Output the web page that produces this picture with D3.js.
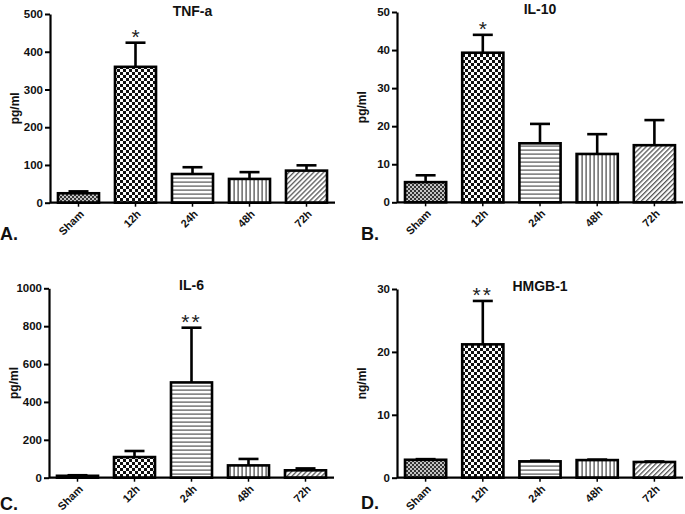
<!DOCTYPE html>
<html><head><meta charset="utf-8">
<script src="https://cdn.jsdelivr.net/npm/d3@7"></script>
<style>
html,body{margin:0;padding:0;background:#fff;}
svg text{font-family:"Liberation Sans",Arial,sans-serif;}
</style></head>
<body>
<svg id="chart" width="685" height="514"></svg>
<script>
const categories = ["Sham", "12h", "24h", "48h", "72h"];

const tnfValues = [25, 360, 76, 63, 85];
const tnfErrors = [30, 424, 94, 81, 99];
const tnfTicks = [0, 100, 200, 300, 400, 500];

const il10Values = [5.3, 39.3, 15.5, 12.7, 15.0];
const il10Errors = [7.1, 44.0, 20.6, 17.9, 21.6];
const il10Ticks = [0, 10, 20, 30, 40, 50];

const il6Values = [10, 109, 503, 65, 39];
const il6Errors = [13, 141, 792, 99, 49];
const il6Ticks = [0, 200, 400, 600, 800, 1000];

const hmgbValues = [2.85, 21.2, 2.6, 2.8, 2.5];
const hmgbErrors = [2.95, 28.1, 2.7, 2.88, 2.58];
const hmgbTicks = [0, 10, 20, 30];

const panels = [
  {letter:"A.", title:"TNF-a", unit:"pg/ml", values:tnfValues, errors:tnfErrors, ticks:tnfTicks, star:{idx:1, text:"*"},
   left:50, right:335, top:14, bottom:202.7, letterPos:[0,240]},
  {letter:"B.", title:"IL-10", unit:"pg/ml", values:il10Values, errors:il10Errors, ticks:il10Ticks, star:{idx:1, text:"*"},
   left:397, right:683, top:12, bottom:202.3, letterPos:[361,240]},
  {letter:"C.", title:"IL-6", unit:"pg/ml", values:il6Values, errors:il6Errors, ticks:il6Ticks, star:{idx:2, text:"**"},
   left:49, right:334, top:288.3, bottom:477.7, letterPos:[0,510]},
  {letter:"D.", title:"HMGB-1", unit:"ng/ml", values:hmgbValues, errors:hmgbErrors, ticks:hmgbTicks, star:{idx:1, text:"**"},
   left:397, right:683, top:289, bottom:477.7, letterPos:[361,509]}
];

const svg = d3.select("#chart");
const defs = svg.append("defs");

function pat(id, w, h){ return defs.append("pattern").attr("id", id).attr("patternUnits","userSpaceOnUse").attr("width", w).attr("height", h); }
let p = pat("p0", 4, 4);
p.append("rect").attr("width",4).attr("height",4).attr("fill","#fff");
p.append("rect").attr("width",2).attr("height",2).attr("fill","#222");
p.append("rect").attr("x",2).attr("y",2).attr("width",2).attr("height",2).attr("fill","#222");
p.append("rect").attr("width",4).attr("height",4).attr("fill","#555").attr("opacity",0.35);

p = pat("p1", 6, 6);
p.append("rect").attr("width",6).attr("height",6).attr("fill","#fff");
p.append("rect").attr("width",3).attr("height",3).attr("fill","#111");
p.append("rect").attr("x",3).attr("y",3).attr("width",3).attr("height",3).attr("fill","#111");

p = pat("p2", 4, 4);
p.append("rect").attr("width",4).attr("height",4).attr("fill","#fff");
p.append("rect").attr("y",1.5).attr("width",4).attr("height",1.2).attr("fill","#555");

p = pat("p3", 4, 4);
p.append("rect").attr("width",4).attr("height",4).attr("fill","#fff");
p.append("rect").attr("x",1.5).attr("width",1.2).attr("height",4).attr("fill","#444");

p = pat("p4", 3.5, 3.5).attr("patternTransform","rotate(45)");
p.append("rect").attr("width",3.5).attr("height",3.5).attr("fill","#fff");
p.append("rect").attr("width",1.3).attr("height",3.5).attr("fill","#555");

const fills = ["url(#p0)","url(#p1)","url(#p2)","url(#p3)","url(#p4)"];

panels.forEach(cfg => {
  const g = svg.append("g");
  const x = d3.scaleBand().domain(categories).range([cfg.left, cfg.right]).paddingInner(0.28).paddingOuter(0.14);
  const y = d3.scaleLinear().domain([0, d3.max(cfg.ticks)]).range([cfg.bottom, cfg.top]);

  g.selectAll("rect.bar").data(categories).enter().append("rect")
    .attr("class","bar")
    .attr("x", d => x(d))
    .attr("width", x.bandwidth())
    .attr("y", (d,i) => y(cfg.values[i]))
    .attr("height", (d,i) => y(0) - y(cfg.values[i]))
    .attr("fill", (d,i) => fills[i])
    .attr("stroke", "#000").attr("stroke-width", 2.6);

  const eg = g.selectAll("g.err").data(categories).enter().append("g").attr("class","err");
  eg.append("line")
    .attr("x1", d => x(d) + x.bandwidth()/2).attr("x2", d => x(d) + x.bandwidth()/2)
    .attr("y1", (d,i) => y(cfg.values[i])).attr("y2", (d,i) => y(cfg.errors[i]))
    .attr("stroke","#000").attr("stroke-width",2.6);
  eg.append("line")
    .attr("x1", d => x(d) + x.bandwidth()/2 - 10).attr("x2", d => x(d) + x.bandwidth()/2 + 10)
    .attr("y1", (d,i) => y(cfg.errors[i])).attr("y2", (d,i) => y(cfg.errors[i]))
    .attr("stroke","#000").attr("stroke-width",2.6);

  const ya = g.append("g").attr("transform", `translate(${cfg.left},0)`)
    .call(d3.axisLeft(y).tickValues(cfg.ticks).tickFormat(d3.format("d")).tickSize(5).tickSizeOuter(0).tickPadding(2));
  ya.select(".domain").attr("stroke","#000").attr("stroke-width",2.2);
  ya.selectAll(".tick line").attr("stroke","#000").attr("stroke-width",2);
  ya.selectAll(".tick text").attr("font-size", 11.5).attr("font-weight","bold").attr("fill","#111")
    .attr("font-family",'"Liberation Sans",Arial,sans-serif');

  const xa = g.append("g").attr("transform", `translate(0,${cfg.bottom})`)
    .call(d3.axisBottom(x).tickSize(4).tickSizeOuter(0));
  xa.select(".domain").attr("stroke","#000").attr("stroke-width",2.2)
    .attr("d", `M${cfg.left},0H${cfg.right}`);
  xa.selectAll(".tick line").attr("stroke","#000").attr("stroke-width",1.5);
  xa.selectAll(".tick text")
    .attr("font-size", 11).attr("font-weight","bold").attr("fill","#111")
    .attr("font-family",'"Liberation Sans",Arial,sans-serif')
    .attr("text-anchor","end").attr("dy", null).attr("y", null)
    .attr("transform", "translate(4,10) rotate(-45)")
    .attr("dominant-baseline","middle");

  g.append("text").attr("x", (cfg.left + cfg.right)/2).attr("y", cfg.top + 2)
    .attr("text-anchor","middle").attr("font-size",14).attr("font-weight","bold").attr("fill","#111")
    .text(cfg.title);

  g.append("text").attr("transform", `translate(${cfg.left - 31},${(cfg.top + cfg.bottom)/2}) rotate(-90)`)
    .attr("text-anchor","middle").attr("font-size",12).attr("font-weight","bold").attr("fill","#111")
    .text(cfg.unit);

  const si = cfg.star.idx;
  g.append("text").attr("x", x(categories[si]) + x.bandwidth()/2).attr("y", y(cfg.errors[si]) + 1)
    .attr("text-anchor","middle").attr("font-size",21).attr("letter-spacing", cfg.star.text.length > 1 ? 2 : 0)
    .attr("fill","#222").text(cfg.star.text);

  g.append("text").attr("x", cfg.letterPos[0]).attr("y", cfg.letterPos[1])
    .attr("font-size",18).attr("font-weight","bold").attr("fill","#111").text(cfg.letter);
});
</script>
</body></html>
